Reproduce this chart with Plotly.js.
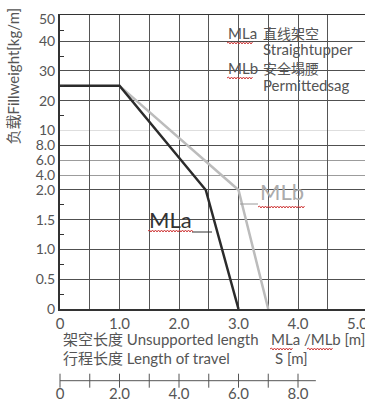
<!DOCTYPE html>
<html><head><meta charset="utf-8">
<script src="https://cdn.plot.ly/plotly-3.0.1.min.js"></script>
<style>html,body{margin:0;padding:0;background:#fff}#chart{width:365px;height:404px}</style>
</head><body><div id="chart"></div>
<script>
// ---------- data ----------
const mlaLength = [0, 1.0, 2.45, 3.0];
const mlaLoad   = [25, 25, 2.0, 0];
const mlbLength = [1.0, 3.0, 3.5];
const mlbLoad   = [25, 2.0, 0];

const xTickVals = [0, 1, 2, 3, 4, 5];
const xTickText = ['0', '1.0', '2.0', '3.0', '4.0', '5.0'];
const xGridVals = [0.5, 1, 1.5, 2, 2.5, 3, 3.5, 4, 4.5];

const yTickVals = [0, 0.5, 1.0, 1.5, 2.0, 4.0, 6.0, 8.0, 10, 20, 30, 40, 50];
const yTickText = ['0', '0.5', '1.0', '1.5', '2.0', '4.0', '6.0', '8.0', '10', '20', '30', '40', '50'];
const yMinorVals = [0.25, 0.75, 1.25, 1.75, 15, 25, 35, 45];
const yGridDark = [0.5, 1.0, 1.5, 2.0, 8.0, 20, 30, 40];
const yGridMid = [4.0, 6.0];
const yGridFaint = [10];

const travelTickVals = [0, 1, 2, 3, 4, 5, 6, 7, 8];
const travelLabelVals = [0, 2, 4, 6, 8];
const travelLabelText = ['0', '2.0', '4.0', '6.0', '8.0'];
const travelAxisEnd = 8.6;

// broken (piecewise linear) load axis of the original chart
const yBreakVals = [0, 2, 10, 40, 50];
const yBreakPos  = [0, 4, 6, 9, 9.75];
function ty(v) {
  for (let i = 1; i < yBreakVals.length; i++) {
    if (v <= yBreakVals[i]) {
      const a = yBreakVals[i-1], b = yBreakVals[i];
      return yBreakPos[i-1] + (v - a) / (b - a) * (yBreakPos[i] - yBreakPos[i-1]);
    }
  }
  return yBreakPos[yBreakPos.length - 1];
}

// ---------- geometry ----------
const W = 365, H = 404, ML = 60, MR = 0, MT = 15, MB = 0;
const PW = W - ML - MR, PH = H - MT - MB;
const px2x = p => (p - ML) / PW;
const py2y = p => (H - MB - p) / PH;
const xMax = 305 / 59.5;
const yTop = 9.88;
const FONT = 'Lato, "Noto Sans CJK SC", sans-serif';
const TXT = '#555555';

function squig(x0, x1, y) {
  let d = `M${px2x(x0)},${py2y(y)}`;
  let up = true;
  for (let x = x0 + 1.5; x <= x1; x += 1.5) {
    d += ` L${px2x(x)},${py2y(y + (up ? -1 : 1))}`;
    up = !up;
  }
  return {type: 'path', xref: 'paper', yref: 'paper', path: d, line: {color: '#d03a3a', width: 1}};
}
function seg(x0, x1, y, color) {
  return {type: 'line', xref: 'paper', yref: 'paper', x0: px2x(x0), x1: px2x(x1), y0: py2y(y), y1: py2y(y), line: {color: color, width: 1}};
}
function ann(text, x, y, size, color, xanchor, extra) {
  return Object.assign({text: text, xref: 'paper', yref: 'paper', x: px2x(x), y: py2y(y),
    xanchor: xanchor || 'left', yanchor: 'middle', showarrow: false,
    font: {family: FONT, size: size, color: color || TXT}}, extra || {});
}

const traces = [
  {x: [], y: [], xaxis: 'x3', yaxis: 'y', hoverinfo: 'skip'},
  {x: [], y: [], xaxis: 'x', yaxis: 'y3', hoverinfo: 'skip'},
  {x: [], y: [], xaxis: 'x', yaxis: 'y4', hoverinfo: 'skip'},
  {x: [], y: [], xaxis: 'x', yaxis: 'y5', hoverinfo: 'skip'},
  {name: 'MLb', x: mlbLength, y: mlbLoad.map(ty), mode: 'lines', xaxis: 'x', yaxis: 'y',
   line: {color: '#bcbcbc', width: 2.5}},
  {name: 'MLa', x: mlaLength, y: mlaLoad.map(ty), mode: 'lines', xaxis: 'x', yaxis: 'y',
   line: {color: '#2b2b2b', width: 2.5}},
  {x: [0, travelAxisEnd], y: [0, 0], mode: 'lines', xaxis: 'x2', yaxis: 'y2',
   line: {color: '#555', width: 1}, cliponaxis: false},
  {x: travelTickVals, y: travelTickVals.map(() => 0), mode: 'markers', xaxis: 'x2', yaxis: 'y2',
   marker: {symbol: 'line-ns', size: 10, color: '#555', line: {color: '#555', width: 1}}, cliponaxis: false}
];

const yDom0 = py2y(309);
const gridAxis = (vals, color) => ({overlaying: 'y', anchor: 'x', range: [0, yTop],
  tickmode: 'array', tickvals: vals.map(ty), showticklabels: false, showgrid: true,
  gridcolor: color, gridwidth: 1, zeroline: false, showline: false, ticks: ''});

const layout = {
  width: W, height: H,
  margin: {l: ML, r: MR, t: MT, b: MB, pad: 0},
  paper_bgcolor: '#fff', plot_bgcolor: '#fff',
  showlegend: false,
  font: {family: FONT, size: 15, color: TXT},
  xaxis: {domain: [0, 1], anchor: 'y', range: [0, xMax], tickmode: 'array', tickvals: xTickVals, ticktext: xTickText,
    showgrid: false, zeroline: false, showline: true, linecolor: '#333', linewidth: 1.5, mirror: true, ticks: '',
    ticklabeloverflow: 'allow', tickfont: {size: 15, color: TXT}},
  xaxis3: {overlaying: 'x', anchor: 'y', range: [0, xMax], tickmode: 'array', tickvals: xGridVals,
    showticklabels: false, showgrid: true, gridcolor: '#555', gridwidth: 1, zeroline: false, showline: false, ticks: ''},
  yaxis: {domain: [yDom0, 1], anchor: 'x', range: [0, yTop], tickmode: 'array', tickvals: yTickVals.map(ty), ticktext: yTickText,
    showgrid: false, zeroline: false, showline: true, linecolor: '#333', linewidth: 2, ticks: '',
    tickfont: {size: 14, color: TXT},
    minor: {tickmode: 'array', tickvals: yMinorVals.map(ty), ticks: 'inside', ticklen: 4, tickcolor: '#333', tickwidth: 1, showgrid: false}},
  yaxis3: gridAxis(yGridDark, '#505050'),
  yaxis4: gridAxis(yGridMid, '#9c9c9c'),
  yaxis5: gridAxis(yGridFaint, '#dedede'),
  xaxis2: {domain: [0, 1], anchor: 'y2', range: [0, 2 * xMax], tickmode: 'array', tickvals: travelLabelVals, ticktext: travelLabelText,
    showgrid: false, zeroline: false, showline: false, ticks: '', tickfont: {size: 15, color: TXT}},
  yaxis2: {domain: [py2y(383), py2y(378.4)], anchor: 'x2', range: [-1, 1], visible: false},
  annotations: [
    ann('负载Fillweight[kg/m]', 12.5, 76, 15, TXT, 'center', {textangle: -90}),
    ann('MLa', 170, 219, 22, '#333', 'center'),
    ann('MLb', 282, 191, 22, '#ababab', 'center'),
    ann('MLa', 226, 33, 15),
    ann('直线架空', 261, 33, 14),
    ann('Straightupper', 261, 49, 15),
    ann('MLb', 226, 68, 15),
    ann('安全塌腰', 261, 68, 14),
    ann('Permittedsag', 261, 85, 15),
    ann('架空长度 Unsupported length', 61, 339, 15),
    ann('MLa /MLb [m]', 269, 339, 15),
    ann('行程长度 Length of travel', 61, 358, 15),
    ann('S [m]', 273, 358, 15)
  ],
  shapes: [
    seg(192, 212, 232, '#333'),
    seg(240, 258, 204, '#9a9a9a'),
    squig(148, 193, 231),
    squig(258, 305, 207),
    squig(227, 253, 43),
    squig(227, 253, 78),
    squig(270, 293, 349),
    squig(307, 333, 349)
  ]
};

Plotly.newPlot('chart', traces, layout, {displayModeBar: false, staticPlot: true});
</script>
</body></html>
